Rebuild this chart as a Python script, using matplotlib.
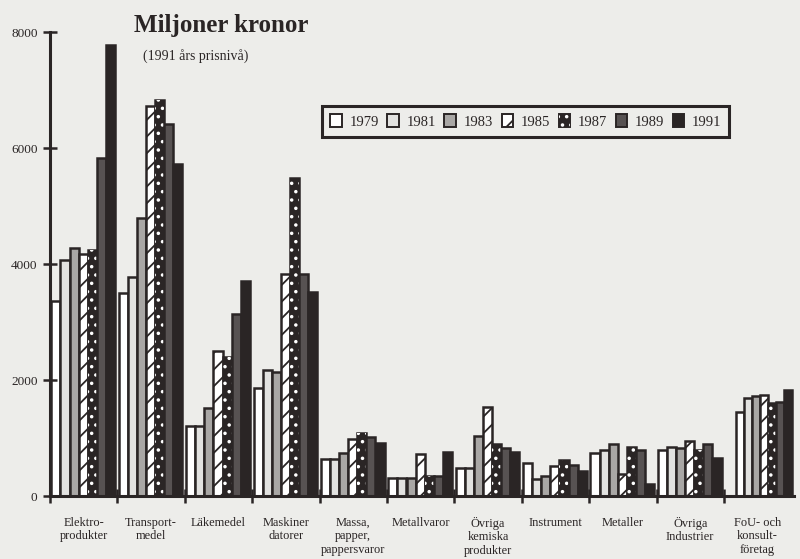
import matplotlib
matplotlib.use('Agg')
import matplotlib.pyplot as plt
from matplotlib.patches import Patch
from matplotlib.legend_handler import HandlerTuple
import numpy as np

categories = ['Elektro-\nprodukter', 'Transport-\nmedel', 'Läkemedel', 'Maskiner\ndatorer',
              'Massa,\npapper,\npappersvaror', 'Metallvaror', 'Övriga\nkemiska\nprodukter',
              'Instrument', 'Metaller', 'Övriga\nIndustrier', 'FoU- och\nkonsult-\nföretag']
years = ['1979', '1981', '1983', '1985', '1987', '1989', '1991']

v1979 = [3370, 3500, 1200, 1870, 630, 310, 480, 575, 740, 800, 1440]
v1981 = [4070, 3780, 1200, 2180, 630, 310, 480, 300, 800, 840, 1690]
v1983 = [4280, 4800, 1510, 2140, 740, 310, 1030, 350, 890, 820, 1720]
v1985 = [4170, 6720, 2500, 3830, 990, 720, 1540, 520, 380, 950, 1740]
v1987 = [4240, 6820, 2400, 5480, 1090, 345, 890, 620, 840, 800, 1600]
v1989 = [5830, 6410, 3140, 3830, 1010, 345, 820, 530, 800, 900, 1620]
v1991 = [7780, 5720, 3700, 3510, 910, 760, 765, 430, 210, 660, 1830]
series = [v1979, v1981, v1983, v1985, v1987, v1989, v1991]

y_ticks = [0, 2000, 4000, 6000, 8000]

ink = '#2a2525'
bg = '#ededea'
# face colour and hatch for every year
styles = [
    ('white', None),
    ('#e2e2e0', None),
    ('#a9a7a5', None),
    ('white', '//'),
    (ink, 'dots'),
    ('#575252', None),
    (ink, None),
]

plt.rcParams['font.family'] = ['Liberation Serif', 'DejaVu Serif']
plt.rcParams['hatch.linewidth'] = 1.3

fig = plt.figure(figsize=(8, 5.59), dpi=100, facecolor=bg)
ax = fig.add_axes([0.0625, 0.1127, 0.93, 0.830])
ax.set_facecolor(bg)

n = len(years)
x = np.arange(len(categories))
# last group sits a bit to the right and is narrower
start = np.array([0.02] * 10 + [0.18])
gw = np.array([0.945] * 10 + [0.83])
bw = gw / n
lw = 1.8

for j, vals in enumerate(series):
    fc, hatch = styles[j]
    xs = x + start + j * bw
    if hatch == 'dots':
        ax.bar(xs, vals, width=bw, align='edge', color=fc, edgecolor=ink, linewidth=lw)
        ax.bar(xs, vals, width=bw, align='edge', fill=False, edgecolor='white',
               hatch='..', linewidth=0)
    else:
        ax.bar(xs, vals, width=bw, align='edge', color=fc, edgecolor=ink, linewidth=lw,
               hatch=hatch)

ax.set_xlim(0, 11.04)
ax.set_ylim(0, 8000)

for s in ['top', 'right']:
    ax.spines[s].set_visible(False)
for s in ['left', 'bottom']:
    ax.spines[s].set_linewidth(2.2)
    ax.spines[s].set_color(ink)

ax.set_yticks(y_ticks)
ax.set_yticklabels([str(t) for t in y_ticks])
ax.tick_params(axis='y', direction='inout', length=10, width=1.8, color=ink,
               labelsize=9.5, labelcolor=ink, pad=4)

ax.set_xticks(np.arange(0, 11))
ax.set_xticklabels([])
ax.set_xticks(x + 0.5, minor=True)
ax.set_xticklabels(categories, minor=True, fontsize=8.9, color=ink, linespacing=1.15)
ax.tick_params(axis='x', which='major', direction='inout', length=10, width=1.8, color=ink)
ax.tick_params(axis='x', which='minor', length=0, pad=15)

fig.text(0.277, 0.955, 'Miljoner kronor', fontsize=18, fontweight='bold', color=ink,
         ha='center', va='center')
fig.text(0.244, 0.9, '(1991 års prisnivå)', fontsize=10, color=ink, ha='center', va='center')

handles = []
for j in range(n):
    fc, hatch = styles[j]
    if hatch == 'dots':
        handles.append((Patch(facecolor=fc, edgecolor=ink, linewidth=1.4),
                        Patch(fill=False, edgecolor='white', hatch='..', linewidth=0)))
    else:
        handles.append(Patch(facecolor=fc, edgecolor=ink, linewidth=1.4, hatch=hatch))

leg = ax.legend(handles, years, ncol=7, loc='upper left', bbox_to_anchor=(0.366, 0.84),
                borderaxespad=0, fontsize=10.5, handlelength=0.8, handleheight=1.0,
                handletextpad=0.5, columnspacing=0.6, fancybox=False, frameon=True,
                borderpad=0.55, handler_map={tuple: HandlerTuple(ndivide=1, pad=0)})
leg.get_frame().set_edgecolor(ink)
leg.get_frame().set_linewidth(2.2)
leg.get_frame().set_facecolor(bg)
leg.get_frame().set_alpha(1)
for t in leg.get_texts():
    t.set_color(ink)

fig.savefig('out.png', dpi=100, facecolor=bg)
